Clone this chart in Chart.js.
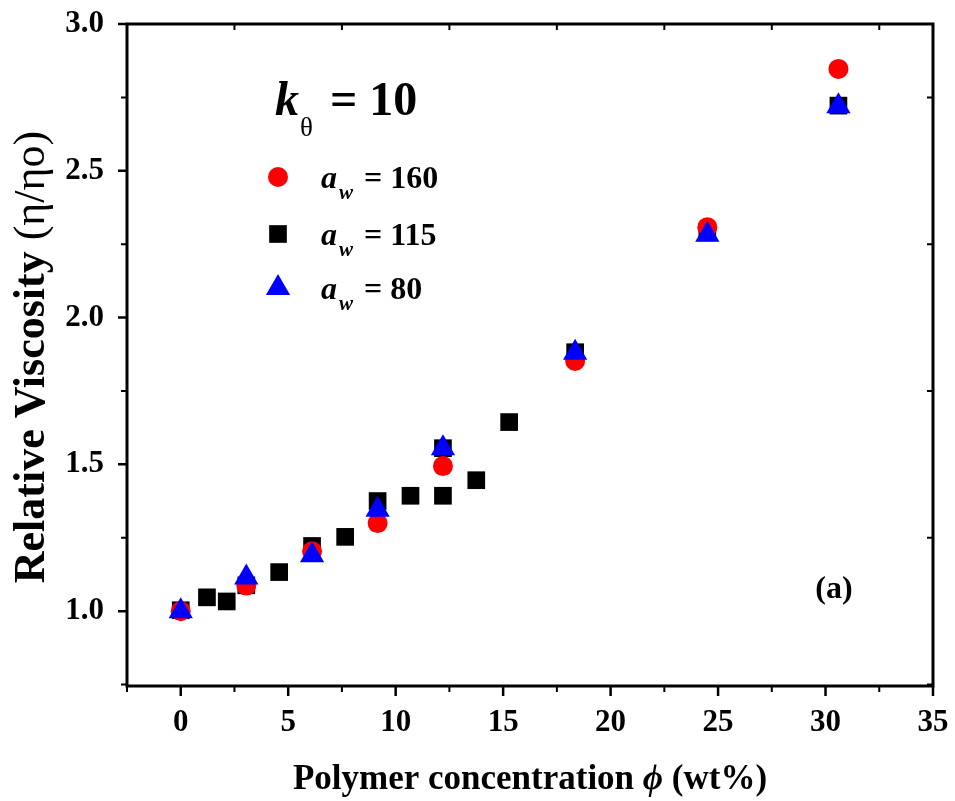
<!DOCTYPE html>
<html>
<head>
<meta charset="utf-8">
<script src="https://cdn.jsdelivr.net/npm/chart.js@4/dist/chart.umd.min.js"></script>
<style>
  html, body { margin: 0; padding: 0; background: #fff; }
  #wrap { width: 955px; height: 801px; position: relative; }
</style>
</head>
<body>
<div id="wrap"><canvas id="viscChart"></canvas></div>
<script>
// ===========================
// Data
// ===========================
const phi160 = [0, 3.05, 6.11, 9.16, 12.2, 18.35, 24.5, 30.6];
const eta160 = [1.0, 1.087, 1.204, 1.30, 1.494, 1.852, 2.308, 2.847];

const phi115 = [0, 1.22, 2.14, 3.05, 4.58, 6.11, 7.65, 9.16, 10.69, 12.2, 12.2, 13.75, 15.28, 18.35, 24.5, 30.6];
const eta115 = [1.003, 1.047, 1.033, 1.088, 1.133, 1.222, 1.253, 1.375, 1.393, 1.393, 1.555, 1.446, 1.644, 1.882, 2.29, 2.722];

const phi80 = [0, 3.05, 6.11, 9.16, 12.2, 18.35, 24.5, 30.6];
const eta80 = [1.0, 1.115, 1.19, 1.345, 1.555, 1.88, 2.282, 2.72];

// axis ticks
const xMajorTicks = [0, 5, 10, 15, 20, 25, 30, 35];
const xMinorTicks = [-2.5, 2.5, 7.5, 12.5, 17.5, 22.5, 27.5, 32.5];
const yMajorTicks = [1.0, 1.5, 2.0, 2.5, 3.0];
const yMinorTicks = [0.75, 1.25, 1.75, 2.25, 2.75];

const legendLabels = ["160", "115", "80"];

const SERIF = "'Liberation Serif', 'Times New Roman', serif";

function toPoints(xs, ys) {
    return xs.map((x, i) => ({ x: x, y: ys[i] }));
}

// ==========================================
// Frame, minor ticks, titles and the legend
// ==========================================
const decorPlugin = {
    id: "decor",
    afterDraw(chart) {
        const ctx = chart.ctx;
        const area = chart.chartArea;
        const xs = chart.scales.x;
        const ys = chart.scales.y;

        ctx.save();
        ctx.strokeStyle = "#000";
        ctx.lineCap = "butt";

        // ticks
        ctx.lineWidth = 2.5;
        ctx.beginPath();
        xMajorTicks.forEach(v => {
            const px = xs.getPixelForValue(v);
            ctx.moveTo(px, area.bottom);
            ctx.lineTo(px, area.bottom + 10);
        });
        yMajorTicks.forEach(v => {
            const py = ys.getPixelForValue(v);
            ctx.moveTo(area.left, py);
            ctx.lineTo(area.left - 9, py);
        });
        ctx.stroke();

        ctx.lineWidth = 2;
        ctx.beginPath();
        xMinorTicks.forEach(v => {
            const px = xs.getPixelForValue(v);
            ctx.moveTo(px, area.bottom);
            ctx.lineTo(px, area.bottom + 6);
            if (v > xs.min) {
                ctx.moveTo(px, area.top);
                ctx.lineTo(px, area.top + 6);
            }
        });
        yMinorTicks.forEach(v => {
            const py = ys.getPixelForValue(v);
            ctx.moveTo(area.left, py);
            ctx.lineTo(area.left - 6, py);
            ctx.moveTo(area.right, py);
            ctx.lineTo(area.right - 6, py);
        });
        ctx.stroke();

        // frame
        ctx.lineWidth = 3;
        ctx.strokeRect(area.left, area.top, area.right - area.left, area.bottom - area.top);

        ctx.fillStyle = "#000";
        ctx.textBaseline = "alphabetic";
        ctx.textAlign = "left";

        // x title (mixed styles)
        const xParts = [
            { t: "Polymer concentration ", f: "bold 35px " + SERIF },
            { t: "\u03D5", f: "italic bold 35px " + SERIF },
            { t: " (wt%)", f: "bold 35px " + SERIF }
        ];
        drawParts(ctx, xParts, 530, 789);

        // y title, rotated
        ctx.save();
        ctx.translate(44, 357);
        ctx.rotate(-Math.PI / 2);
        const yParts = [
            { t: "Relative Viscosity ", f: "bold 44px " + SERIF },
            { t: "(\u03B7/\u03B7o)", f: "44px " + SERIF }
        ];
        drawParts(ctx, yParts, 0, 0);
        ctx.restore();

        // k_theta = 10
        ctx.font = "italic bold 48px " + SERIF;
        ctx.fillText("k", 275, 115);
        ctx.font = "27px " + SERIF;
        ctx.fillText("\u03B8", 300, 136);
        ctx.font = "bold 48px " + SERIF;
        ctx.fillText("= 10", 330, 115);

        // legend
        const markerX = 278;
        const rowY = [177, 234, 288];
        const styles = chart.data.datasets;
        rowY.forEach((y, i) => {
            const ds = styles[i];
            ctx.fillStyle = ds.backgroundColor;
            drawMarker(ctx, ds.pointStyle, markerX, y, ds.pointRadius);
            ctx.fillStyle = "#000";
            const base = y + 11;
            ctx.font = "italic bold 32px " + SERIF;
            ctx.fillText("a", 321, base);
            ctx.font = "italic bold 21px " + SERIF;
            ctx.fillText("w", 339, base + 11);
            ctx.font = "bold 32px " + SERIF;
            ctx.fillText("= " + legendLabels[i], 364, base);
        });

        // panel label
        ctx.font = "bold 32px " + SERIF;
        ctx.textAlign = "center";
        ctx.fillText("(a)", 834, 598);

        ctx.restore();
    }
};

function drawParts(ctx, parts, cx, baseY) {
    let total = 0;
    parts.forEach(p => {
        ctx.font = p.f;
        p.w = ctx.measureText(p.t).width;
        total += p.w;
    });
    let x = cx - total / 2;
    ctx.textAlign = "left";
    parts.forEach(p => {
        ctx.font = p.f;
        ctx.fillText(p.t, x, baseY);
        x += p.w;
    });
}

function drawMarker(ctx, style, x, y, r) {
    ctx.beginPath();
    if (style === "circle") {
        ctx.arc(x, y, r, 0, Math.PI * 2);
    } else if (style === "rect") {
        const s = r * Math.SQRT1_2;
        ctx.rect(x - s, y - s, 2 * s, 2 * s);
    } else {
        ctx.moveTo(x, y - r);
        ctx.lineTo(x + r * Math.sin(Math.PI * 2 / 3), y - r * Math.cos(Math.PI * 2 / 3));
        ctx.lineTo(x + r * Math.sin(Math.PI * 4 / 3), y - r * Math.cos(Math.PI * 4 / 3));
        ctx.closePath();
    }
    ctx.fill();
}

// no extra label overflow padding, keep the plot box fixed
function zeroPadding(scale) {
    scale.paddingLeft = 0;
    scale.paddingRight = 0;
    scale.paddingTop = 0;
    scale.paddingBottom = 0;
}

// ============================
// Build chart
// ============================
const canvas = document.getElementById("viscChart");
canvas.width = 955;
canvas.height = 801;

new Chart(canvas, {
    type: "scatter",
    data: {
        datasets: [
            {
                label: "a_w = 160",
                data: toPoints(phi160, eta160),
                pointStyle: "circle",
                pointRadius: 10,
                backgroundColor: "#ff0000",
                borderColor: "#ff0000",
                borderWidth: 0,
                order: 1
            },
            {
                label: "a_w = 115",
                data: toPoints(phi115, eta115),
                pointStyle: "rect",
                pointRadius: 12.5,
                backgroundColor: "#000000",
                borderColor: "#000000",
                borderWidth: 0,
                order: 2
            },
            {
                label: "a_w = 80",
                data: toPoints(phi80, eta80),
                pointStyle: "triangle",
                pointRadius: 14,
                backgroundColor: "#0000ff",
                borderColor: "#0000ff",
                borderWidth: 0,
                order: 0
            }
        ]
    },
    options: {
        responsive: false,
        animation: false,
        devicePixelRatio: 1,
        layout: { padding: { left: 0, right: 22, top: 24, bottom: 0 } },
        plugins: {
            legend: { display: false },
            tooltip: { enabled: false }
        },
        scales: {
            x: {
                type: "linear",
                min: -2.5,
                max: 35,
                grid: { display: false, drawTicks: false },
                border: { display: false },
                afterBuildTicks: scale => {
                    scale.ticks = xMajorTicks.map(v => ({ value: v }));
                },
                afterFit: scale => { scale.height = 115; zeroPadding(scale); },
                ticks: {
                    padding: 18,
                    color: "#000",
                    maxRotation: 0,
                    font: { family: SERIF, size: 31, weight: "bold" },
                    callback: v => String(v)
                }
            },
            y: {
                type: "linear",
                min: 0.745,
                max: 3.0,
                grid: { display: false, drawTicks: false },
                border: { display: false },
                afterBuildTicks: scale => {
                    scale.ticks = yMajorTicks.map(v => ({ value: v }));
                },
                afterFit: scale => { scale.width = 127; zeroPadding(scale); },
                ticks: {
                    padding: 23,
                    color: "#000",
                    font: { family: SERIF, size: 31, weight: "bold" },
                    callback: v => Number(v).toFixed(1)
                }
            }
        }
    },
    plugins: [decorPlugin]
});
</script>
</body>
</html>
